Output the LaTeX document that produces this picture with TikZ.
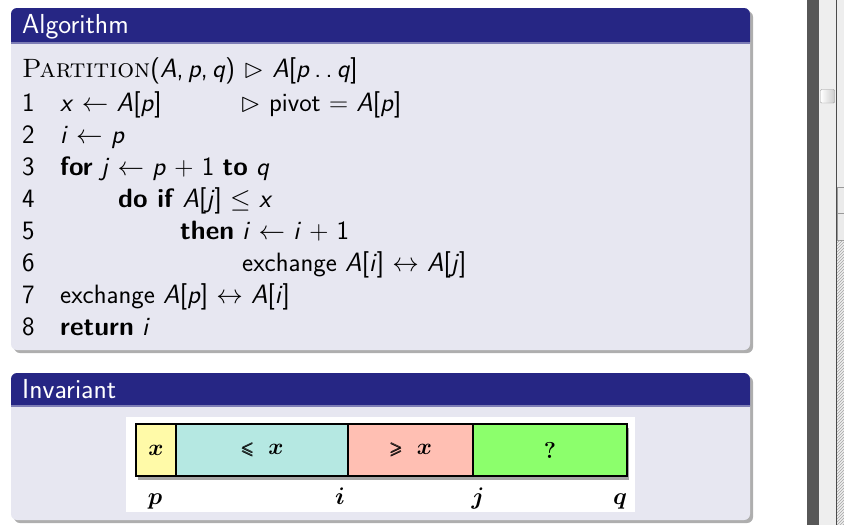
\documentclass[tikz,border=0pt]{standalone}
\usepackage{fix-cm}
\usepackage{amssymb}
\usepackage{bm}
\usepackage{fontspec}
\usetikzlibrary{shadows,patterns}

\definecolor{headblue}{RGB}{38,38,132}
\definecolor{bodybg}{RGB}{231,231,241}
\definecolor{cellyellow}{RGB}{255,250,168}
\definecolor{cellcyan}{RGB}{181,232,226}
\definecolor{cellpink}{RGB}{255,191,179}
\definecolor{cellgreen}{RGB}{140,255,108}
\definecolor{scrolldark}{RGB}{87,87,87}
\definecolor{scrolllight}{RGB}{238,238,238}

\newcommand{\mv}[1]{\textit{#1}}
\newcommand{\smrel}[1]{{\fontsize{17}{20}\selectfont$\bm{#1}$}}

\tikzset{
  blockbody/.style={fill=bodybg, rounded corners=6pt,
    drop shadow={shadow xshift=3pt, shadow yshift=-3pt, opacity=.45, fill=black!70}},
  blockhead/.style={fill=headblue, rounded corners=6pt},
  headtext/.style={anchor=base west, inner sep=0pt, text=white, font=\fontsize{27.5}{32}\selectfont\sffamily},
  codeline/.style={anchor=base west, inner sep=0pt, font=\fontsize{26.5}{31}\selectfont\sffamily},
  cell/.style={draw=black, line width=1.5pt, minimum height=52pt, inner sep=0pt, font=\fontsize{23}{26}\selectfont},
  idx/.style={anchor=base, inner sep=0pt, font=\fontsize{24}{28}\selectfont}
}

\begin{document}
\begin{tikzpicture}[x=1pt,y=-1pt]
  \useasboundingbox[fill=white] (0,0) rectangle (844,525);

  % algorithm block
  \fill[blockbody] (11,8) rectangle (750,350);
  \fill[blockhead] (11,8) rectangle (750,48);
  \fill[bodybg] (11,42) rectangle (750,50);
  \fill[headblue!60] (11,42) rectangle (750,44);
  \node[headtext] (algtitle) at (22,33) {Algorithm};

  \node[codeline] (head) at (22,77) {{\rmfamily\textsc{Partition}}(\mv{A},\,\mv{p},\,\mv{q}) $\vartriangleright$ \mv{A}[\mv{p}\,.\,.\,\mv{q}]};
  \foreach \n in {1,...,8}
    \node[codeline] (num\n) at (22,79+32*\n) {\n};
  \node[codeline] (l1) at (60,111) {\mv{x} $\leftarrow$ \mv{A}[\mv{p}]};
  \node[codeline] (c1) at (240,111) {$\vartriangleright$ pivot $=$ \mv{A}[\mv{p}]};
  \node[codeline] (l2) at (60,143) {\mv{i} $\leftarrow$ \mv{p}};
  \node[codeline] (l3) at (60,175) {\textbf{for} \mv{j} $\leftarrow$ \mv{p} $+$ 1 \textbf{to} \mv{q}};
  \node[codeline] (l4) at (118,207) {\textbf{do if} \mv{A}[\mv{j}] $\leq$ \mv{x}};
  \node[codeline] (l5) at (180,239) {\textbf{then} \mv{i} $\leftarrow$ \mv{i} $+$ 1};
  \node[codeline] (l6) at (242,271) {exchange \mv{A}[\mv{i}] $\leftrightarrow$ \mv{A}[\mv{j}]};
  \node[codeline] (l7) at (60,303) {exchange \mv{A}[\mv{p}] $\leftrightarrow$ \mv{A}[\mv{i}]};
  \node[codeline] (l8) at (60,335) {\textbf{return} \mv{i}};

  % invariant block
  \fill[blockbody] (11,373) rectangle (750,520);
  \fill[blockhead] (11,373) rectangle (750,412);
  \fill[bodybg] (11,405) rectangle (750,414);
  \fill[headblue!60] (11,405) rectangle (750,407);
  \node[headtext] (invtitle) at (22,398) {Invariant};

  % the array
  \fill[white] (126,417) rectangle (635,512);
  \fill[drop shadow={shadow xshift=2pt, shadow yshift=-4pt, opacity=.5, fill=black!70}, white] (136,424) rectangle (627,476);
  \node[cell, fill=cellyellow, minimum width=40pt] (cx) at (156,450) {$\bm{x}$};
  \node[cell, fill=cellcyan, minimum width=172pt] (cle) at (262,450) {\smrel{\leqslant}\ \ $\bm{x}$};
  \node[cell, fill=cellpink, minimum width=125pt] (cge) at (410.5,450) {\smrel{\geqslant}\ \ $\bm{x}$};
  \node[cell, fill=cellgreen, minimum width=154pt] (cq) at (550,450) {\bfseries ?};
  \node[idx] (ip) at (155,504) {$\bm{p}$};
  \node[idx] (ii) at (340,504) {$\bm{i}$};
  \node[idx] (ij) at (478,504) {$\bm{j}$};
  \node[idx] (iq) at (620,504) {$\bm{q}$};

  % scroll bar
  \fill[scrolldark] (807,0) rectangle (819,525);
  \fill[scrolllight] (819,0) rectangle (844,525);
  \draw[black!70, line width=1pt] (836.5,0) -- (836.5,525);
  \draw[black!40, fill=black!8] (837,187) rectangle (845,213);
  \draw[black!40, fill=black!8] (837,213) rectangle (845,240);
  \fill[pattern=north east lines, pattern color=black!35] (837,240) rectangle (844,525);
  \draw[black!40, left color=white, right color=black!20, rounded corners=1pt] (820.5,89.5) rectangle (834.5,103);
\end{tikzpicture}
\end{document}
